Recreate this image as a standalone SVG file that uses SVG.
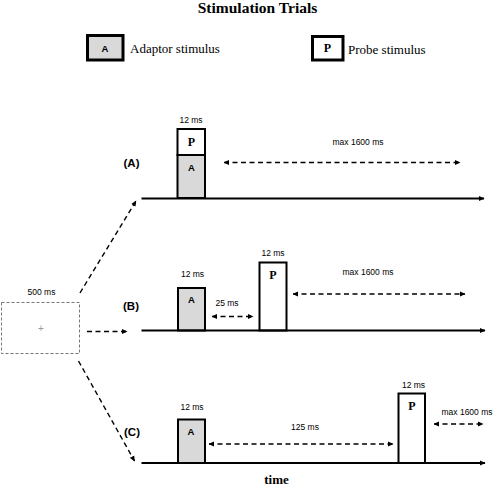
<svg xmlns="http://www.w3.org/2000/svg" width="500" height="492" viewBox="0 0 500 492">
<defs>
<marker id="ah" markerWidth="6" markerHeight="6" refX="5" refY="3" orient="auto" markerUnits="userSpaceOnUse">
<path d="M0,0.5 L5.5,3 L0,5.5 Z" fill="#000"/>
</marker>
<marker id="ahs" markerWidth="6" markerHeight="6" refX="0.5" refY="3" orient="auto" markerUnits="userSpaceOnUse">
<path d="M5.5,0.5 L0,3 L5.5,5.5 Z" fill="#000"/>
</marker>
<style>
.title{font-family:"Liberation Serif",serif;font-weight:bold;font-size:15.5px;text-anchor:middle;fill:#000}
.leg{font-family:"Liberation Serif",serif;font-size:13px;fill:#000}
.lab{font-family:"Liberation Sans",Arial,sans-serif;font-size:8.5px;text-anchor:middle;fill:#000}
.panel{font-family:"Liberation Sans",Arial,sans-serif;font-weight:bold;font-size:11.5px;text-anchor:middle;fill:#000}
.a{font-family:"Liberation Sans",Arial,sans-serif;font-weight:bold;font-size:9.5px;text-anchor:middle;fill:#000}
.p{font-family:"Liberation Serif",serif;font-weight:bold;font-size:12px;text-anchor:middle;fill:#000}
.adapt{fill:#d9d9d9;stroke:#000;stroke-width:2}
.probe{fill:#fff;stroke:#000;stroke-width:2}
.axis{stroke:#000;stroke-width:1.8;fill:none}
.dash{stroke:#000;stroke-width:1.4;stroke-dasharray:5,3.5;fill:none}
</style>
</defs>
<rect width="500" height="492" fill="#fff"/>
<text class="title" x="257.5" y="13">Stimulation Trials</text>

<g id="legend-adaptor">
<rect x="87.5" y="35.5" width="35.5" height="24.5" fill="#d9d9d9" stroke="#000" stroke-width="3"/>
<text class="a" x="105" y="51.5" font-size="10.5">A</text>
<text class="leg" x="130" y="52.5">Adaptor stimulus</text>
</g>
<g id="legend-probe">
<rect x="312.5" y="36.5" width="30.5" height="23.5" fill="#fff" stroke="#000" stroke-width="3"/>
<text class="p" x="327.5" y="52">P</text>
<text class="leg" x="348" y="54">Probe stimulus</text>
</g>

<g id="fixation">
<rect x="1.5" y="302.5" width="78" height="51" fill="#fff" stroke="#777" stroke-width="1" stroke-dasharray="3,2"/>
<text x="41" y="331.5" font-family="Liberation Sans, Arial, sans-serif" font-size="10" fill="#999999" text-anchor="middle">+</text>
<text class="lab" x="41.5" y="295" font-size="9">500 ms</text>
</g>

<g id="trial-A">
<text class="panel" x="131.5" y="167">(A)</text>
<rect class="adapt" x="177.5" y="155" width="27.5" height="43"/>
<rect class="probe" x="177.5" y="129" width="27.5" height="26"/>
<text class="p" x="191.5" y="146">P</text>
<text class="a" x="191.5" y="171">A</text>
<text class="lab" x="191" y="123">12 ms</text>
<text class="lab" x="358" y="145" font-size="9">max 1600 ms</text>
</g>

<g id="trial-B">
<text class="panel" x="131" y="310">(B)</text>
<rect class="adapt" x="178" y="288" width="27" height="42.5"/>
<text class="a" x="191.5" y="303">A</text>
<text class="lab" x="192.5" y="277">12 ms</text>
<rect class="probe" x="259.5" y="262.5" width="27" height="68"/>
<text class="p" x="273" y="279">P</text>
<text class="lab" x="273" y="255.5">12 ms</text>
<text class="lab" x="227" y="306" font-size="9">25 ms</text>
<text class="lab" x="368" y="274.5" font-size="9">max 1600 ms</text>
</g>

<g id="trial-C">
<text class="panel" x="132" y="435.5">(C)</text>
<rect class="adapt" x="178" y="419.5" width="27" height="43.5"/>
<text class="a" x="191" y="435">A</text>
<text class="lab" x="192" y="410">12 ms</text>
<rect class="probe" x="398.5" y="393.5" width="26.5" height="69.5"/>
<text class="p" x="412" y="409.5">P</text>
<text class="lab" x="413.5" y="387.5">12 ms</text>
<text class="lab" x="305" y="430" font-size="9">125 ms</text>
<text class="lab" x="467" y="414.5">max 1600 ms</text>
<text x="276.5" y="484" font-family="Liberation Serif, serif" font-weight="bold" font-size="13" text-anchor="middle" fill="#000">time</text>
</g>

<g id="connectors">
<line class="axis" x1="141.5" y1="198.5" x2="484" y2="198.5" marker-end="url(#ah)"/>
<line class="axis" x1="141.5" y1="330.5" x2="485" y2="330.5" marker-end="url(#ah)"/>
<line class="axis" x1="141.5" y1="463" x2="485" y2="463" marker-end="url(#ah)"/>

<line class="dash" x1="80" y1="293" x2="136" y2="201" marker-end="url(#ah)"/>
<line class="dash" x1="87" y1="331.5" x2="127" y2="331.5" marker-end="url(#ah)"/>
<line class="dash" x1="78.5" y1="361" x2="134.5" y2="461" marker-end="url(#ah)"/>

<line class="dash" x1="224" y1="162.5" x2="460" y2="162.5" marker-start="url(#ahs)" marker-end="url(#ah)"/>
<line class="dash" x1="212" y1="316.5" x2="253" y2="316.5" marker-start="url(#ahs)" marker-end="url(#ah)"/>
<line class="dash" x1="293" y1="294" x2="465" y2="294" marker-start="url(#ahs)" marker-end="url(#ah)"/>
<line class="dash" x1="209" y1="444" x2="393" y2="444" marker-start="url(#ahs)" marker-end="url(#ah)"/>
<line class="dash" x1="434" y1="424" x2="483" y2="424" marker-start="url(#ahs)" marker-end="url(#ah)"/>
</g>
</svg>
